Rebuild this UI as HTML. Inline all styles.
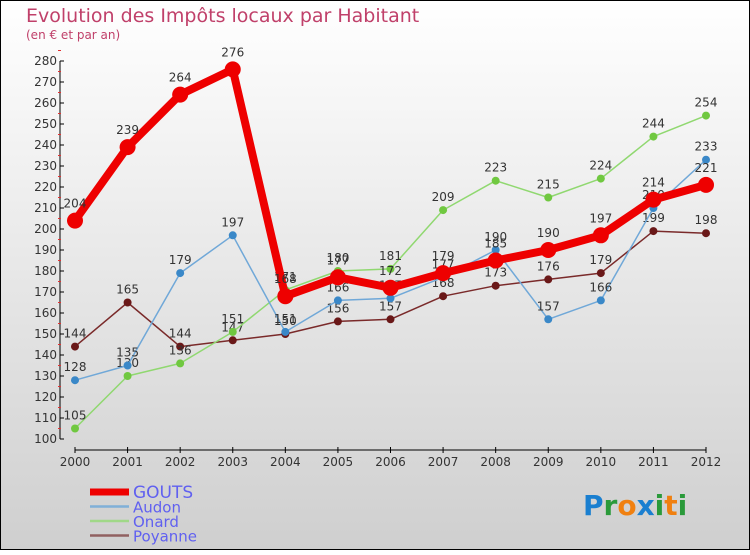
<!DOCTYPE html>
<html><head><meta charset="utf-8"><style>
body{margin:0;}
svg text{font-family:"DejaVu Sans","Liberation Sans",sans-serif;}
</style></head><body>
<svg width="750" height="550" viewBox="0 0 750 550" xmlns="http://www.w3.org/2000/svg">
<defs><linearGradient id="bg" x1="0" y1="0" x2="0" y2="1"><stop offset="0" stop-color="#ffffff"/><stop offset="1" stop-color="#cfcfcf"/></linearGradient></defs>
<rect x="0.5" y="0.5" width="749" height="549" fill="url(#bg)" stroke="#000"/>
<text x="26" y="22" font-size="19" fill="#c0406a">Evolution des Impôts locaux par Habitant</text>
<text x="26" y="39" font-size="12" fill="#c0406a">(en € et par an)</text>
<g id="axes"></g>
<g id="series"></g>
<g id="legend"></g>
<text x="583" y="515" font-size="28" font-weight="bold"><tspan fill="#1a7fd0">P</tspan><tspan fill="#2a9a3a">r</tspan><tspan fill="#f08010">o</tspan><tspan fill="#1a7fd0">x</tspan><tspan fill="#2a9a3a">i</tspan><tspan fill="#f08010">t</tspan><tspan fill="#2a9a3a">i</tspan></text>
</svg>
<script>
const years=[2000,2001,2002,2003,2004,2005,2006,2007,2008,2009,2010,2011,2012];
const gouts=[204,239,264,276,168,177,172,179,185,190,197,214,221];
const audon=[128,135,179,197,151,166,167,177,190,157,166,210,233];
const onard=[105,130,136,151,171,180,181,209,223,215,224,244,254];
const poyanne=[144,165,144,147,150,156,157,168,173,176,179,199,198];
const yTicks=[100,110,120,130,140,150,160,170,180,190,200,210,220,230,240,250,260,270,280];
const NS="http://www.w3.org/2000/svg";
const X=i=>75+i*(706-75)/12;
const Y=v=>439-(v-100)*2.1;
function mk(t,a,p){const e=document.createElementNS(NS,t);for(const k in a)e.setAttribute(k,a[k]);p.appendChild(e);return e;}
const ax=document.getElementById('axes');
let l=mk('line',{x1:60,y1:Y(280),x2:60,y2:Y(100),stroke:'#000'},ax);


yTicks.forEach(v=>{
 const tk=mk('line',{x1:60,y1:Y(v),x2:64,y2:Y(v),stroke:'#000'},ax);
 
 
 const t=mk('text',{x:57,y:Y(v)+4,'font-size':12,'text-anchor':'end',fill:'#333'},ax);t.textContent=v;
 
 
 const m=mk('line',{x1:58,y1:Y(v+5),x2:61,y2:Y(v+5),stroke:'#e03030'},ax);
 
 
});
l=mk('line',{x1:X(0),y1:450,x2:X(12),y2:450,stroke:'#000'},ax);


years.forEach((y,i)=>{
 const tk=mk('line',{x1:X(i),y1:447,x2:X(i),y2:453,stroke:'#000'},ax);
 
 
 const t=mk('text',{x:X(i),y:466,'font-size':12,'text-anchor':'middle',fill:'#333'},ax);t.textContent=y;
 
 
});
const sg=document.getElementById('series');
const series=[
 {n:'poyanne',d:poyanne,c:'#7a2a2a',m:'#6a1818',w:1.5,r:4},
 {n:'onard',d:onard,c:'#90d870',m:'#70c840',w:1.5,r:4},
 {n:'audon',d:audon,c:'#70a8d8',m:'#3a88c8',w:1.5,r:4},
 {n:'gouts',d:gouts,c:'#ee0000',m:'#ee0000',w:8,r:8}
];
series.forEach(s=>{
 const g=mk('g',{},sg);
 
 
 const pl=mk('polyline',{points:s.d.map((v,i)=>X(i)+','+Y(v)).join(' '),fill:'none',stroke:s.c,'stroke-width':s.w,'stroke-linejoin':'round'},g);
 
 
 s.d.forEach((v,i)=>{
  const c=mk('circle',{cx:X(i),cy:Y(v),r:s.r,fill:s.m},g);
  
  
  const t=mk('text',{x:X(i),y:Y(v)-s.r-5,'font-size':12,'text-anchor':'middle',fill:'#333'},g);t.textContent=v;
  
  
 });
});
const lg=document.getElementById('legend');
const names=['GOUTS','Audon','Onard','Poyanne'];
const lc=['#ee0000','#80b0d8','#a0d888','#906060'];
names.forEach((n,i)=>{
 const y=492+i*14.5;
 const ln=mk('line',{x1:90,y1:y,x2:129,y2:y,stroke:lc[i],'stroke-width':i?2.5:7},lg);
 
 
 const t=mk('text',{x:133,y:y+6,'font-size':i?15:17,fill:'#6060f0'},lg);t.textContent=n;
 
 
});
</script>
</body></html>
